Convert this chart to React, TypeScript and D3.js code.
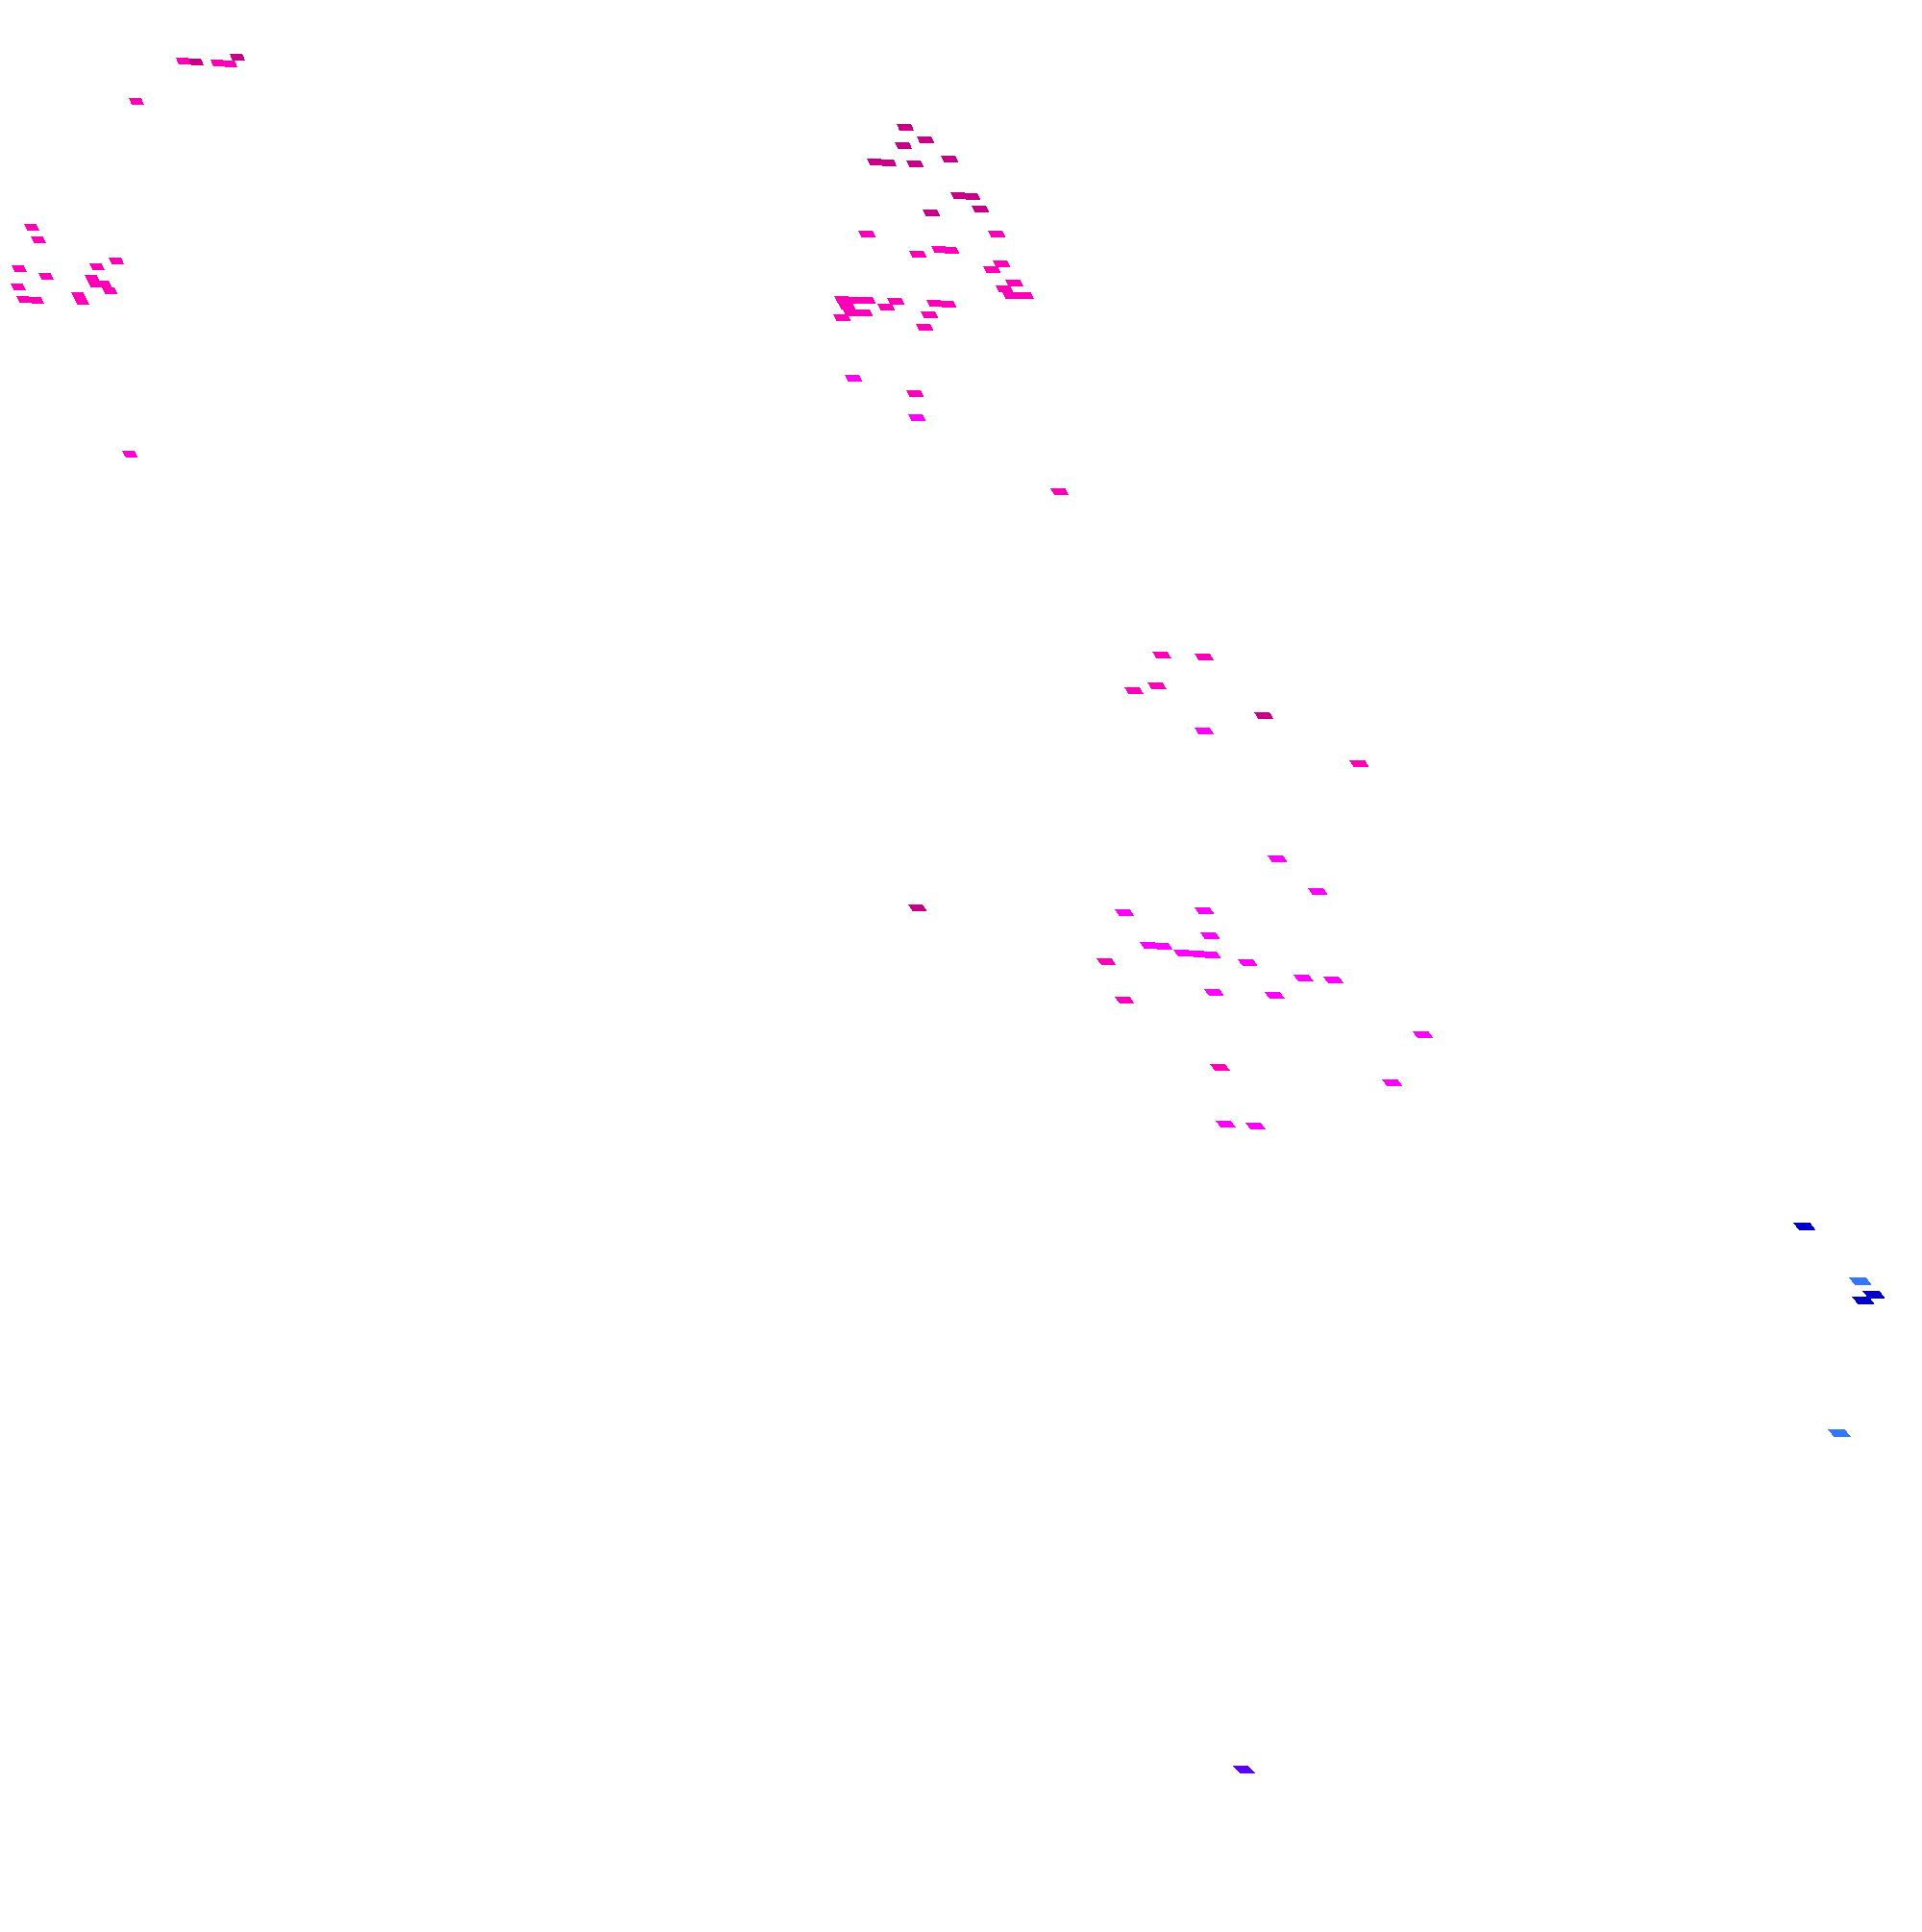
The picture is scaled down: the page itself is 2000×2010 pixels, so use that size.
import React from "react";
import * as d3 from "d3";

// cell anchors (top-left corner of each tile) in plot units, plus the colour value
const cellX = [
  91.5, 98, 109.5, 115.5, 119.5, 67, 12.5, 16, 56.5, 46.5, 6, 20, 5.5, 44, 45.5, 50, 53, 8.5, 15, 37, 38.5, 63.5,
  466.5, 477, 465.5, 451, 457.5, 471.5, 489.5, 494.5, 501, 505.5, 480, 446.5, 514, 484.5, 490, 473, 516.5, 511.5,
  523, 518, 521.5, 528.5, 434, 440.5, 446.5, 436, 438.5, 445, 433.5, 461.5, 456.5, 482, 488.5, 479, 476.5, 439.5,
  471.5, 472.5, 546.5,
  599.5, 621.5, 597, 585, 652.5, 621.5, 702, 472.5, 659.5, 680.5, 580, 621.5, 624.5, 593, 600, 610.5, 618.5, 625,
  570.5, 644, 673, 688.5, 626.5, 658, 580, 735, 629.5, 719, 632.5, 648,
  933, 962, 969, 963.5, 951, 641.5,
];
const cellY = [
  30, 30.5, 31, 31.5, 28, 51, 116.5, 123, 134, 137, 138, 142, 147.5, 143, 146, 146, 149.5, 154, 154.5, 152, 155, 234.5,
  64.5, 71, 74, 82.5, 83, 83.5, 81, 100, 100.5, 107, 109, 120, 120, 128, 128.5, 130.5, 135.5, 138.5,
  145.5, 148.5, 152, 152, 154, 154.5, 154.5, 157.5, 161, 161, 163.5, 155, 158, 156, 156.5, 162, 168.5, 195,
  203, 215.5, 254,
  339, 340, 355, 357.5, 370.5, 378.5, 395.5, 470.5, 445, 462, 473, 472, 485, 490, 490.5, 494, 494.5, 495,
  498.5, 499, 507, 508, 514.5, 516, 518.5, 536.5, 553.5, 561.5, 583, 584,
  636, 664.5, 671.5, 674.5, 743.5, 918.5,
];
// 0 dark blue, 1 light blue, 2 violet, 3 magenta, 4 pink, 5 deep magenta
const cellValue = [
  4, 5, 4, 4, 5, 4, 4, 4, 4, 4, 4, 4, 4, 4, 4, 4, 4, 4, 4, 4, 4, 3.6,
  5, 5, 5, 5, 5, 5, 5, 5, 5, 5, 5, 4, 4, 4, 4, 4, 4, 4,
  4, 4, 4, 4, 4, 4, 4, 4, 4, 4, 4, 4, 4, 4, 4, 4, 4, 3.2,
  4, 3, 4,
  4, 4, 4, 4, 5, 3, 4, 5, 3, 3, 3, 3, 3, 3, 3, 3, 3, 3,
  4, 3, 3, 3, 3, 3, 4, 3, 4, 3, 3, 3,
  0, 1, 0, 0, 1, 2,
];

const colorStops = ["#0000c8", "#3377ff", "#5a00ff", "#ff00ff", "#ff00b9", "#c80087"];

const W = 2000;
const H = 2010;

export default function App() {
  const x = d3.scaleLinear().domain([0, 1000]).range([0, W]);
  const y = d3.scaleLinear().domain([0, 1005]).range([0, H]);
  const color = d3
    .scaleLinear<string>()
    .domain([0, 1, 2, 3, 4, 5])
    .range(colorStops)
    .interpolate(d3.interpolateRgb);

  // tiles grow toward the lower right (viewing angle)
  const tileW = d3.scaleLinear().domain([0, W]).range([12.5, 17.8]);
  const tileH = d3.scaleLinear().domain([0, H]).range([6.8, 8]);
  const tileSkew = d3.scaleLinear().domain([0, H]).range([2.8, 7.5]);

  const cells = cellX.map((cx, i) => ({ cx, cy: cellY[i], v: cellValue[i] }));

  return (
    <svg
      width={W}
      height={H}
      style={{ position: "absolute", left: 0, top: 0, background: "#fff" }}
    >
      <g shapeRendering="crispEdges">
        {cells.map((d, i) => {
          const px = x(d.cx);
          const py = y(d.cy);
          const w = tileW(px);
          const h = tileH(py);
          const s = tileSkew(py);
          const path = d3.path();
          path.moveTo(px, py);
          path.lineTo(px + w, py);
          path.lineTo(px + w + s, py + h);
          path.lineTo(px + s, py + h);
          path.closePath();
          return <path key={i} d={path.toString()} fill={color(d.v)} />;
        })}
      </g>
    </svg>
  );
}
